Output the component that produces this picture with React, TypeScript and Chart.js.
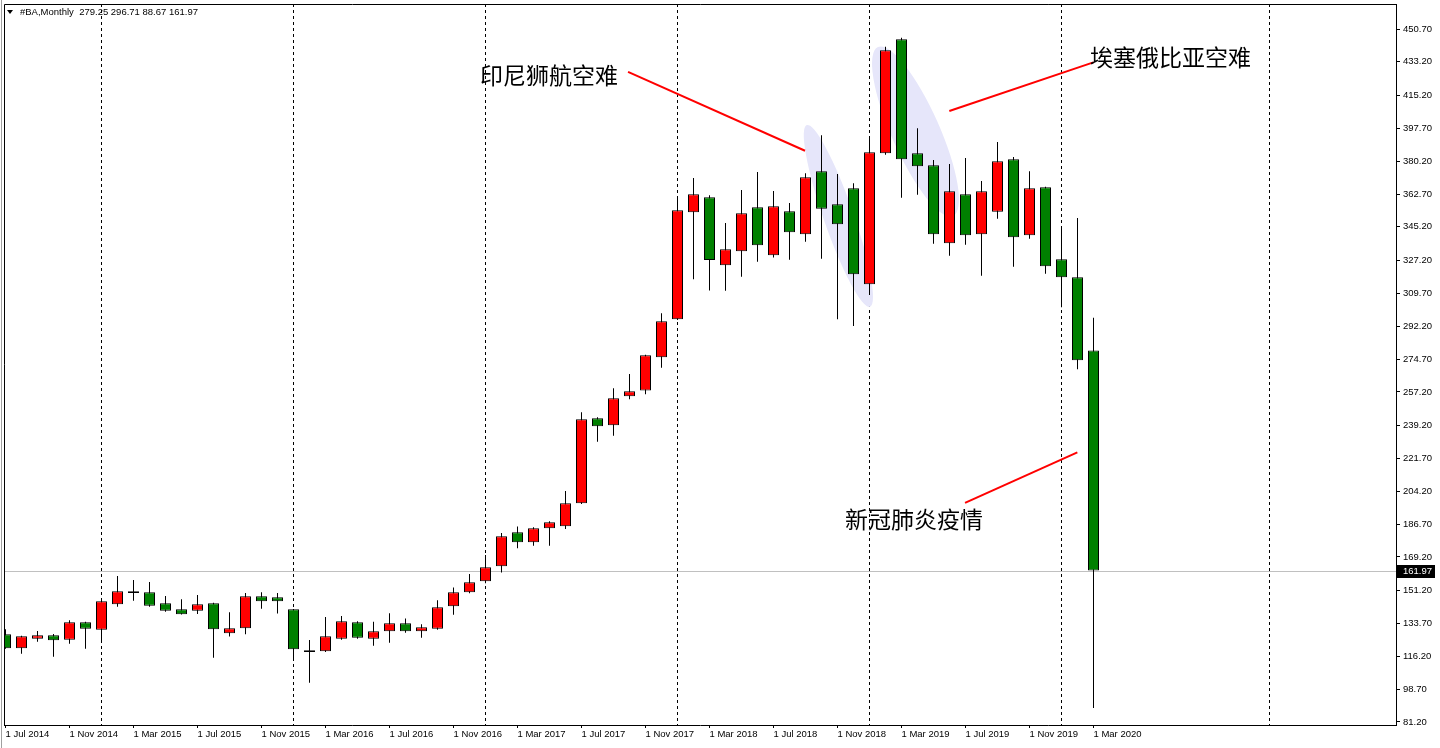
import React, { useEffect, useRef } from 'react';
import { Chart, registerables } from 'chart.js';

Chart.register(...registerables);

// ---- data (monthly BA candles, Jul 2014 .. Mar 2020) ----
const months = [
  '2014-07', '2014-08', '2014-09', '2014-10', '2014-11', '2014-12',
  '2015-01', '2015-02', '2015-03', '2015-04', '2015-05', '2015-06', '2015-07', '2015-08', '2015-09', '2015-10', '2015-11', '2015-12',
  '2016-01', '2016-02', '2016-03', '2016-04', '2016-05', '2016-06', '2016-07', '2016-08', '2016-09', '2016-10', '2016-11', '2016-12',
  '2017-01', '2017-02', '2017-03', '2017-04', '2017-05', '2017-06', '2017-07', '2017-08', '2017-09', '2017-10', '2017-11', '2017-12',
  '2018-01', '2018-02', '2018-03', '2018-04', '2018-05', '2018-06', '2018-07', '2018-08', '2018-09', '2018-10', '2018-11', '2018-12',
  '2019-01', '2019-02', '2019-03', '2019-04', '2019-05', '2019-06', '2019-07', '2019-08', '2019-09', '2019-10', '2019-11', '2019-12',
  '2020-01', '2020-02', '2020-03',
];

const openP = [
  128.0, 120.5, 125.6, 127.4, 125.1, 134.4,
  130.45, 143.95, 150.9, 150.35, 144.5, 141.3, 140.55, 144.5, 128.5, 131.2, 148.2, 147.7,
  141.3, 119.4, 118.9, 125.6, 134.4, 125.6, 129.6, 133.85, 129.6, 130.95, 142.9, 150.35,
  156.2, 164.2, 182.35, 177.05, 184.5, 185.6, 197.8, 243.1, 239.4, 254.85, 258.0, 275.65,
  295.9, 353.0, 361.0, 324.7, 332.2, 355.6, 330.0, 353.5, 341.2, 374.8, 357.2, 365.8,
  314.6, 384.45, 445.2, 384.4, 378.0, 336.4, 362.6, 341.2, 353.3, 381.2, 340.7, 366.3,
  327.9, 318.3, 279.25,
];
const highP = [
  130.6, 127.2, 129.7, 128.1, 135.4, 134.6,
  145.8, 159.05, 156.9, 155.85, 148.4, 146.6, 148.9, 144.8, 139.7, 149.95, 150.35, 149.95,
  141.5, 124.9, 137.2, 137.7, 134.95, 134.6, 139.2, 136.4, 133.3, 146.1, 152.9, 160.1,
  170.2, 181.95, 185.5, 185.0, 188.2, 204.35, 246.3, 243.7, 259.1, 266.75, 277.0, 299.1,
  361.65, 371.25, 362.0, 347.3, 364.9, 374.5, 364.3, 357.9, 373.8, 394.0, 373.4, 368.4,
  393.65, 441.3, 446.0, 397.75, 380.85, 378.7, 381.9, 369.7, 390.45, 382.45, 374.8, 366.6,
  345.5, 349.9, 296.71,
];
const lowP = [
  120.3, 117.6, 124.0, 116.0, 122.95, 120.3,
  124.9, 142.7, 145.9, 142.7, 140.0, 138.5, 138.8, 115.5, 126.85, 128.0, 141.6, 139.0,
  113.9, 102.1, 118.5, 125.1, 125.6, 121.9, 123.5, 128.8, 126.15, 130.45, 138.4, 149.8,
  155.15, 160.9, 173.9, 175.2, 175.2, 184.1, 197.5, 230.65, 233.85, 253.25, 255.9, 270.1,
  295.5, 317.25, 311.3, 311.2, 318.6, 326.6, 328.8, 327.7, 337.3, 328.2, 295.9, 292.3,
  308.9, 383.7, 360.75, 362.35, 336.2, 329.8, 335.7, 319.2, 349.55, 324.0, 338.9, 320.2,
  302.3, 269.25, 88.67,
];
const closeP = [
  120.5, 126.9, 127.4, 124.8, 134.4, 130.95,
  145.55, 150.9, 150.0, 143.2, 140.55, 138.6, 143.95, 130.6, 131.2, 148.2, 145.55, 145.55,
  119.95, 118.5, 126.9, 134.95, 126.15, 129.6, 133.85, 129.6, 131.7, 142.35, 150.35, 155.7,
  163.7, 180.2, 177.05, 184.5, 187.7, 197.8, 242.6, 238.85, 253.8, 257.5, 276.7, 294.85,
  354.0, 362.6, 327.5, 333.2, 352.4, 335.4, 356.2, 342.3, 371.6, 354.9, 346.6, 319.9,
  385.0, 439.35, 381.2, 377.5, 341.2, 364.2, 340.7, 364.2, 380.2, 339.6, 365.8, 324.2,
  318.3, 274.05, 161.97,
];

const xTickMonths = [0, 4, 8, 12, 16, 20, 24, 28, 32, 36, 40, 44, 48, 52, 56, 60, 64, 68];
const xTickLabels = [
  '1 Jul 2014', '1 Nov 2014', '1 Mar 2015', '1 Jul 2015', '1 Nov 2015', '1 Mar 2016',
  '1 Jul 2016', '1 Nov 2016', '1 Mar 2017', '1 Jul 2017', '1 Nov 2017', '1 Mar 2018',
  '1 Jul 2018', '1 Nov 2018', '1 Mar 2019', '1 Jul 2019', '1 Nov 2019', '1 Mar 2020',
];
const separatorMonths = [6, 18, 30, 42, 54, 66, 79];
const yTickValues = [
  450.7, 433.2, 415.2, 397.7, 380.2, 362.7, 345.2, 327.2, 309.7, 292.2, 274.7,
  257.2, 239.2, 221.7, 204.2, 186.7, 169.2, 151.2, 133.7, 116.2, 98.7, 81.2,
];
const lastPrice = 161.97;
const headerText = '#BA,Monthly  279.25 296.71 88.67 161.97';

// annotations, anchored in data coordinates (month index, price)
const noteTexts = ['印尼狮航空难', '埃塞俄比亚空难', '新冠肺炎疫情'];
const noteX = [29.66, 67.78, 52.47];
const noteY = [426.0, 435.8, 189.4];
const pointerFrom = [[38.91, 427.8], [58.99, 407.0], [59.97, 198.0]];
const pointerTo = [[49.97, 385.8], [67.99, 432.9], [66.99, 225.0]];
const zoneFrom = [[50.08, 399.5], [54.53, 441.1]];
const zoneTo = [[54.03, 302.6], [59.22, 351.0]];
const zoneHalfWidth = [15, 24];

const X_MIN = -1.5 / 16;
const X_MAX = X_MIN + 1392 / 16;
const Y_MIN = 79.6;
const Y_MAX = 464.03;

const AXIS_FONT = { family: 'Liberation Sans', size: 9.5 };

const overlayPlugin = {
  id: 'mtOverlay',
  beforeDatasetsDraw(chart: any) {
    const { ctx, chartArea: a, scales } = chart;
    const xs = scales.x;
    const ys = scales.y;
    ctx.save();
    ctx.beginPath();
    ctx.rect(a.left, a.top, a.right - a.left, a.bottom - a.top);
    ctx.clip();
    // last price line
    const py = Math.round(ys.getPixelForValue(lastPrice)) + 0.5;
    ctx.strokeStyle = '#c0c0c0';
    ctx.lineWidth = 1;
    ctx.beginPath();
    ctx.moveTo(a.left, py);
    ctx.lineTo(a.right, py);
    ctx.stroke();
    // highlight ellipses
    ctx.fillStyle = '#e6e6fa';
    for (let i = 0; i < zoneFrom.length; i++) {
      const x1 = xs.getPixelForValue(zoneFrom[i][0]);
      const y1 = ys.getPixelForValue(zoneFrom[i][1]);
      const x2 = xs.getPixelForValue(zoneTo[i][0]);
      const y2 = ys.getPixelForValue(zoneTo[i][1]);
      const cx = (x1 + x2) / 2;
      const cy = (y1 + y2) / 2;
      const len = Math.hypot(x2 - x1, y2 - y1) / 2;
      const ang = Math.atan2(y2 - y1, x2 - x1);
      ctx.beginPath();
      ctx.ellipse(cx, cy, len, zoneHalfWidth[i], ang, 0, Math.PI * 2);
      ctx.fill();
    }
    // header
    ctx.fillStyle = '#000';
    ctx.beginPath();
    ctx.moveTo(7, 10);
    ctx.lineTo(13, 10);
    ctx.lineTo(10, 14);
    ctx.closePath();
    ctx.fill();
    ctx.font = '9.5px "Liberation Sans"';
    ctx.textBaseline = 'middle';
    ctx.textAlign = 'left';
    ctx.fillText(headerText, 20, 12.5);
    ctx.restore();
  },
  afterDatasetsDraw(chart: any) {
    const { ctx, chartArea: a, scales } = chart;
    const xs = scales.x;
    const ys = scales.y;
    ctx.save();
    // pointer lines
    ctx.strokeStyle = '#ff0000';
    ctx.lineWidth = 2;
    for (let i = 0; i < pointerFrom.length; i++) {
      ctx.beginPath();
      ctx.moveTo(xs.getPixelForValue(pointerFrom[i][0]), ys.getPixelForValue(pointerFrom[i][1]));
      ctx.lineTo(xs.getPixelForValue(pointerTo[i][0]), ys.getPixelForValue(pointerTo[i][1]));
      ctx.stroke();
    }
    // notes
    ctx.fillStyle = '#000';
    ctx.font = '23px "Noto Sans CJK SC"';
    ctx.textBaseline = 'middle';
    ctx.textAlign = 'left';
    for (let i = 0; i < noteTexts.length; i++) {
      ctx.fillText(noteTexts[i], xs.getPixelForValue(noteX[i]), ys.getPixelForValue(noteY[i]));
    }
    // frame (left + top)
    ctx.strokeStyle = '#000';
    ctx.lineWidth = 1;
    ctx.beginPath();
    ctx.moveTo(a.left + 0.5, a.bottom);
    ctx.lineTo(a.left + 0.5, a.top + 0.5);
    ctx.lineTo(a.right + 1, a.top + 0.5);
    ctx.stroke();
    // window edge
    ctx.strokeStyle = '#a0a0a0';
    ctx.beginPath();
    ctx.moveTo(1.5, 0);
    ctx.lineTo(1.5, chart.height);
    ctx.stroke();
    // last price label
    const py = Math.round(ys.getPixelForValue(lastPrice)) + 0.5;
    ctx.fillStyle = '#000';
    ctx.fillRect(a.right + 1, Math.round(py) - 7, 38, 13);
    ctx.fillStyle = '#fff';
    ctx.font = '9.5px "Liberation Sans"';
    ctx.textBaseline = 'middle';
    ctx.fillText(lastPrice.toFixed(2), a.right + 7, py);
    ctx.restore();
  },
};

export default function App() {
  const ref = useRef<HTMLCanvasElement>(null);

  useEffect(() => {
    document.body.style.margin = '0';
    const canvas = ref.current;
    if (!canvas) return;

    const wickData = months.map((_, i) => ({ x: i, y: [lowP[i], highP[i]] }));
    const bodyData = months.map((_, i) => ({ x: i, y: [openP[i], closeP[i]] }));
    const bodyColors = months.map((_, i) => (closeP[i] >= openP[i] ? '#ff0000' : '#008000'));

    const chart = new Chart(canvas, {
      type: 'bar',
      data: {
        datasets: [
          {
            label: 'wick',
            data: wickData as any,
            backgroundColor: '#000000',
            borderWidth: 0,
            grouped: false,
            maxBarThickness: 1,
            inflateAmount: 0,
            order: 2,
          } as any,
          {
            label: 'body',
            data: bodyData as any,
            backgroundColor: bodyColors,
            borderColor: '#000000',
            borderWidth: 1,
            borderSkipped: false,
            grouped: false,
            maxBarThickness: 11,
            inflateAmount: 0,
            order: 1,
          } as any,
        ],
      },
      options: {
        responsive: false,
        animation: false,
        devicePixelRatio: 1,
        layout: { padding: { left: 4, top: 4, right: 0, bottom: 0 } },
        plugins: {
          legend: { display: false },
          tooltip: { enabled: false },
        },
        scales: {
          x: {
            type: 'linear',
            position: 'bottom',
            offset: false,
            min: X_MIN,
            max: X_MAX,
            afterBuildTicks: (s: any) => {
              s.ticks = xTickMonths.map((v) => ({ value: v }));
            },
            afterFit: (s: any) => {
              s.height = 23;
              s.paddingLeft = 0;
              s.paddingRight = 0;
            },
            ticks: {
              autoSkip: false,
              maxRotation: 0,
              align: 'start',
              labelOffset: 0,
              padding: 1,
              color: '#000',
              font: AXIS_FONT,
              callback: (_v: any, idx: number) => xTickLabels[idx],
            },
            grid: { offset: false, drawOnChartArea: false, drawTicks: true, tickLength: 3, tickColor: '#000' },
            border: { display: true, color: '#000', width: 1 },
          },
          sep: {
            type: 'linear',
            position: 'top',
            offset: false,
            min: X_MIN,
            max: X_MAX,
            afterBuildTicks: (s: any) => {
              s.ticks = separatorMonths.map((v) => ({ value: v }));
            },
            afterFit: (s: any) => {
              s.height = 0;
              s.paddingLeft = 0;
              s.paddingRight = 0;
            },
            ticks: { display: false },
            grid: { offset: false, drawOnChartArea: true, drawTicks: false, color: '#000', lineWidth: 1 },
            border: { display: false, dash: [3, 3] },
          },
          y: {
            type: 'linear',
            position: 'right',
            min: Y_MIN,
            max: Y_MAX,
            afterBuildTicks: (s: any) => {
              s.ticks = yTickValues.map((v) => ({ value: v }));
            },
            afterFit: (s: any) => {
              s.width = 44;
              s.paddingTop = 0;
              s.paddingBottom = 0;
            },
            ticks: {
              autoSkip: false,
              padding: 3,
              color: '#000',
              font: AXIS_FONT,
              callback: (v: any) => Number(v).toFixed(2),
            },
            grid: { drawOnChartArea: false, drawTicks: true, tickLength: 4, tickColor: '#000' },
            border: { display: true, color: '#000', width: 1 },
          },
        } as any,
      },
      plugins: [overlayPlugin],
    } as any);

    return () => chart.destroy();
  }, []);

  return (
    <div style={{ position: 'relative', width: 1440, height: 748, background: '#ffffff' }}>
      <canvas ref={ref} width={1440} height={748} style={{ display: 'block', width: 1440, height: 748 }} />
    </div>
  );
}
